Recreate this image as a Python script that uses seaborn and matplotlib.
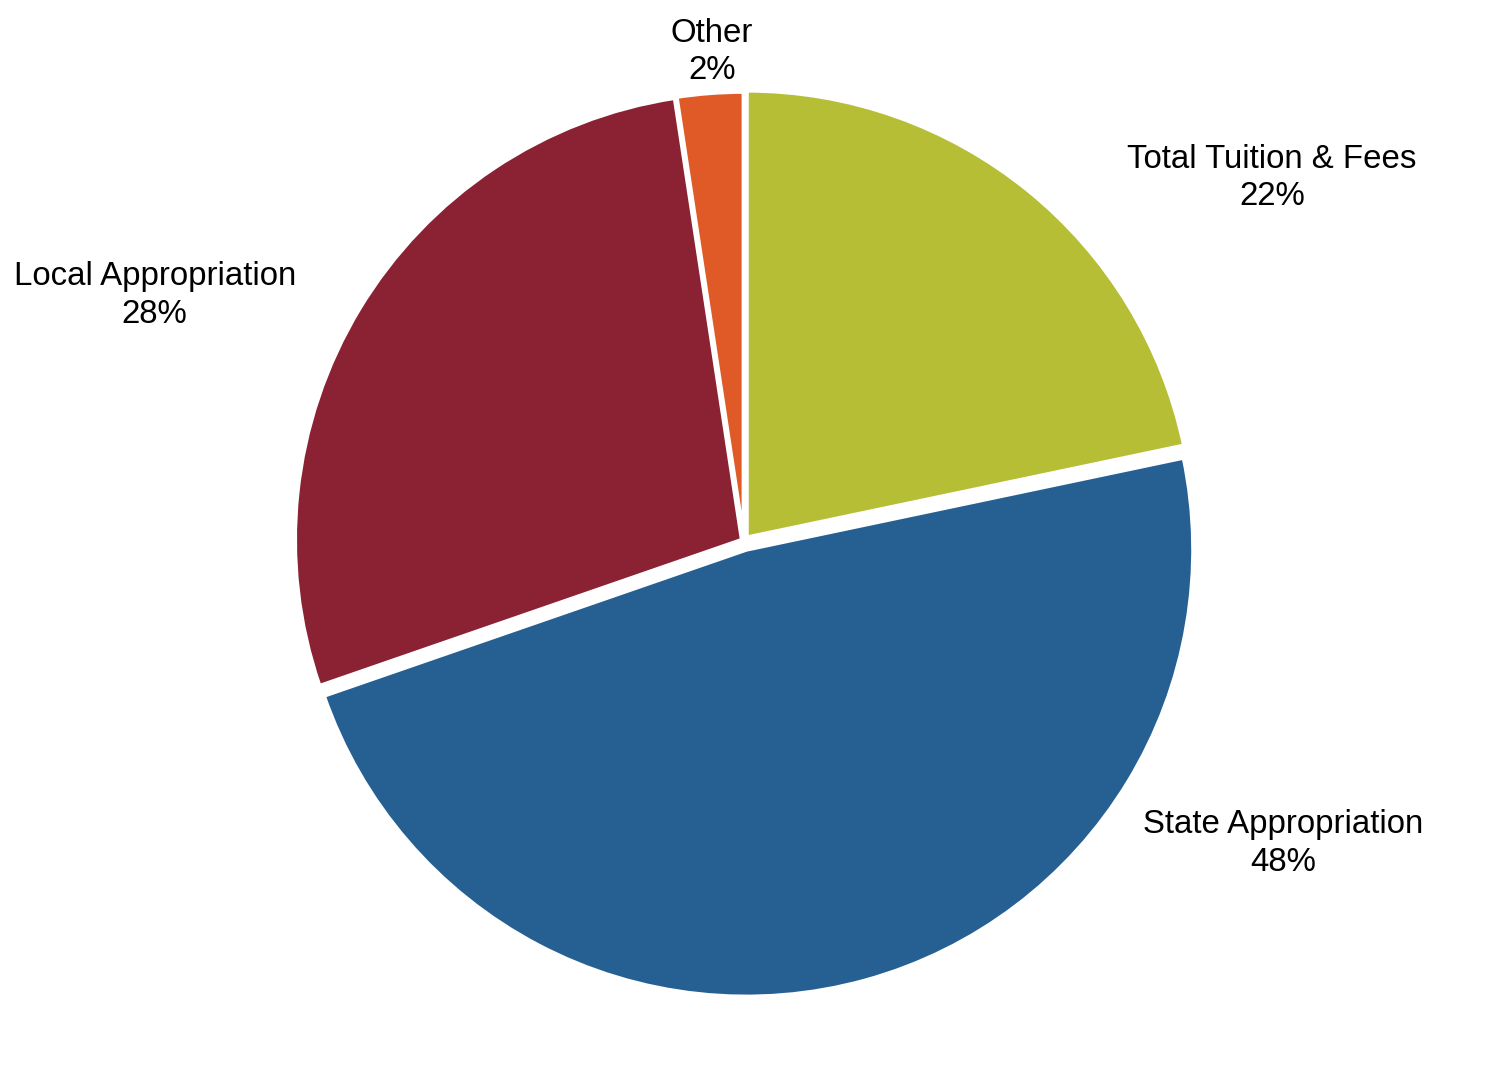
import matplotlib
matplotlib.use('Agg')
import matplotlib.pyplot as plt
import seaborn as sns

categories = ['Total Tuition & Fees', 'State Appropriation', 'Local Appropriation', 'Other']
shares = [21.7, 48.0, 27.9, 2.4]
pct_labels = ['22%', '48%', '28%', '2%']
colors = ['#B6BE36', '#266092', '#8B2233', '#E05A28']

# label spots in pie units (radius = 1)
label_pos = [(1.181, 0.812), (1.206, -0.676), (-1.318, 0.550), (-0.072, 1.094)]

sns.set_theme(style='white')
plt.rcParams['font.family'] = ['Liberation Sans', 'DejaVu Sans']

fig = plt.figure(figsize=(14.94, 10.87), dpi=100)
ax = fig.add_axes([0, 0, 1, 1])

ax.pie(shares, colors=colors, startangle=90, counterclock=False,
       explode=[0.01, 0.02, 0.005, 0.005], radius=1,
       wedgeprops=dict(edgecolor='white', linewidth=3))

for name, pct, (x, y) in zip(categories, pct_labels, label_pos):
    ax.text(x, y, name + '\n' + pct, ha='center', va='center',
            fontsize=23.8, color='black', linespacing=1.28)

ax.set_xlim(-1.664, 1.678)
ax.set_ylim(-1.221, 1.210)
ax.set_aspect('equal')
ax.axis('off')

fig.savefig('out.png', dpi=100)
